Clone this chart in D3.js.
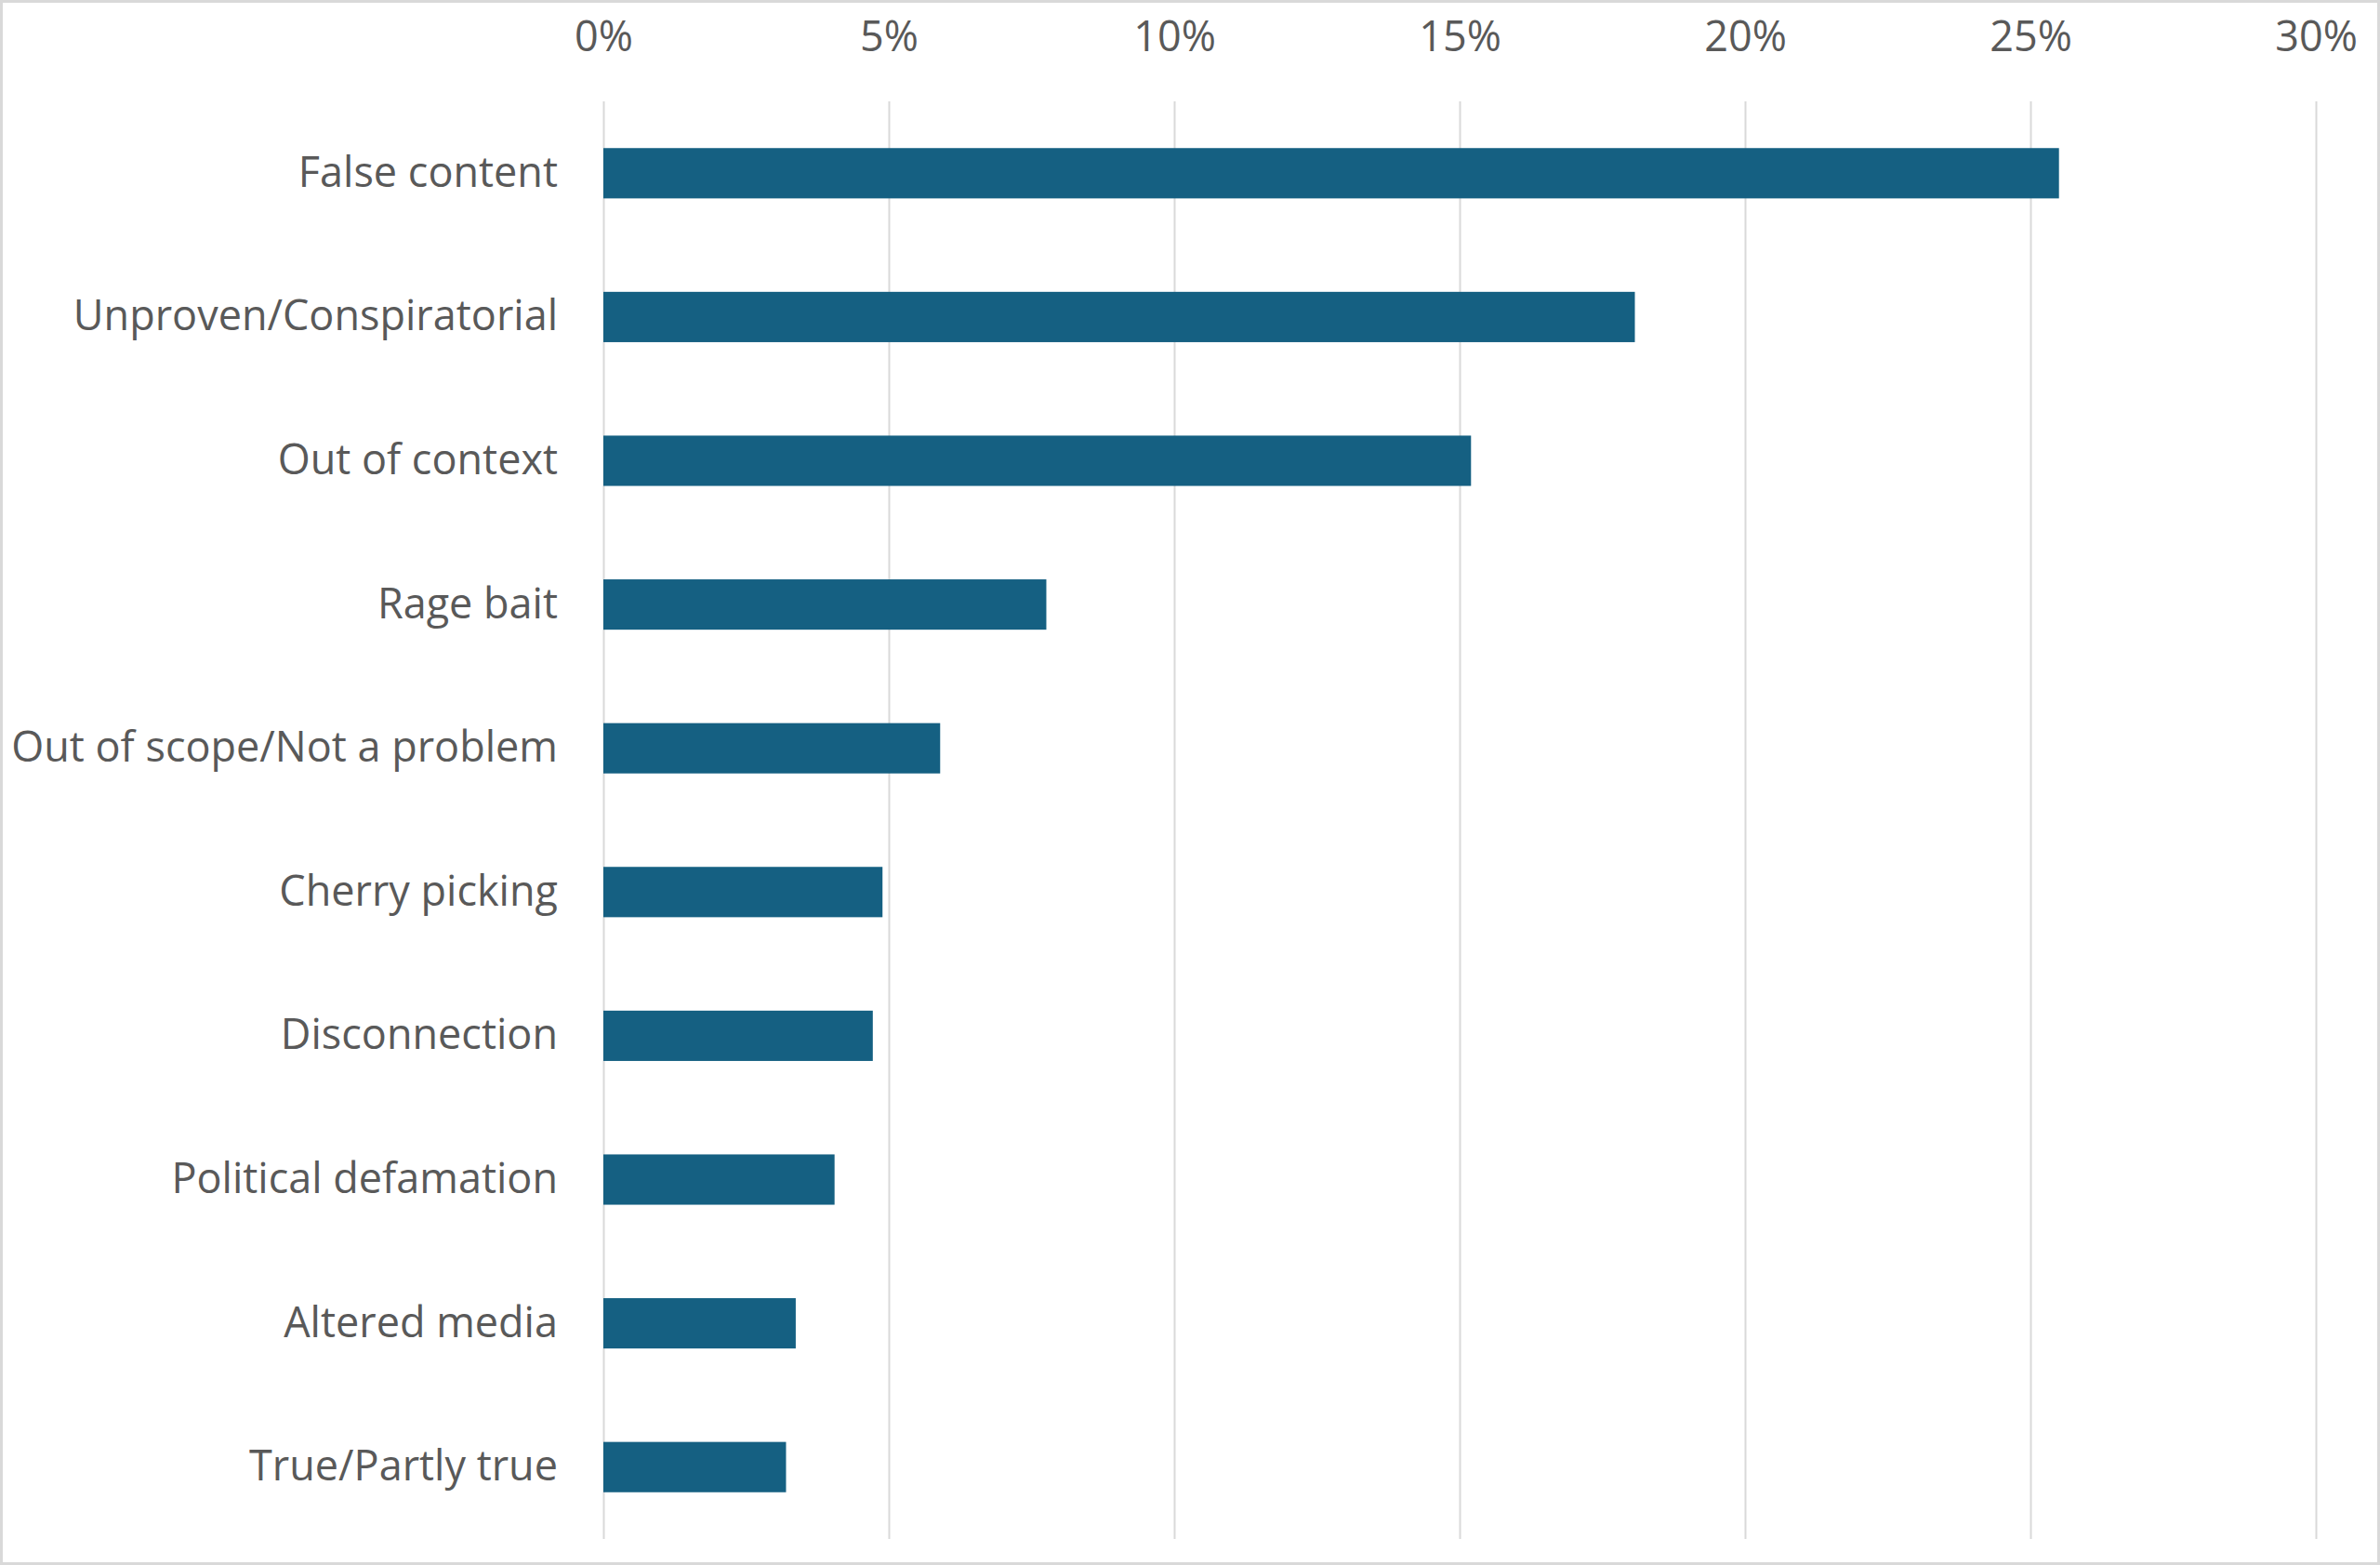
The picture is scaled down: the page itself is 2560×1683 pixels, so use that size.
<!DOCTYPE html>
<html>
<head>
<meta charset="utf-8">
<script src="https://cdn.jsdelivr.net/npm/d3@7"></script>
<style>
  body { margin: 0; background: #fff; }
  .axis text { font-family: "Open Sans", sans-serif; fill: #595959; }
</style>
</head>
<body>
<div id="chart"></div>
<script>
//-----------------------------DATA------------------------------//
const categories = ["False content", "Unproven/Conspiratorial", "Out of context", "Rage bait",
    "Out of scope/Not a problem", "Cherry picking", "Disconnection", "Political defamation",
    "Altered media", "True/Partly true"];
const shares = [25.5, 18.07, 15.2, 7.76, 5.9, 4.89, 4.72, 4.05, 3.37, 3.2];
const ticks = [0, 5, 10, 15, 20, 25, 30];

//------------------------1. PREPARATION-------------------------//
const width = 2560;
const height = 1683;
const plotLeft = 649;
const plotRight = 2491;
const plotTop = 109;
const plotBottom = 1655;

const svg = d3.select("#chart").append("svg")
    .attr("width", width)
    .attr("height", height);

// chart area border
svg.append("rect")
    .attr("x", 1.5).attr("y", 1.5)
    .attr("width", width - 3).attr("height", height - 3)
    .attr("fill", "#fff")
    .attr("stroke", "#d9d9d9")
    .attr("stroke-width", 3);

//----------------------------SCALES-----------------------------//
const xScale = d3.scaleLinear().domain([0, 30]).range([plotLeft, plotRight]);
const yScale = d3.scaleBand().domain(categories).range([plotTop, plotBottom])
    .paddingInner(0.65).paddingOuter(0.325);

//-----------------------------AXES------------------------------//
const xaxis = d3.axisTop(xScale)
    .tickValues(ticks)
    .tickFormat(d => d + "%")
    .tickSizeInner(-(plotBottom - plotTop))
    .tickSizeOuter(0)
    .tickPadding(54);

const gx = svg.append("g")
    .attr("class", "axis")
    .attr("transform", "translate(0," + plotTop + ")")
    .call(xaxis);
gx.select(".domain").remove();
gx.selectAll("line").attr("stroke", "#d9d9d9").attr("stroke-width", 2);
gx.selectAll("text").style("font-size", "45px");

const yaxis = d3.axisLeft(yScale).tickSize(0).tickPadding(49);
const gy = svg.append("g")
    .attr("class", "axis")
    .attr("transform", "translate(" + plotLeft + ",0)")
    .call(yaxis);
gy.select(".domain").remove();
gy.selectAll("text").style("font-size", "45px");

//-----------------------------BARS------------------------------//
svg.append("g")
    .selectAll("rect")
    .data(categories)
    .join("rect")
    .attr("x", xScale(0))
    .attr("y", d => yScale(d))
    .attr("width", (d, i) => xScale(shares[i]) - xScale(0))
    .attr("height", yScale.bandwidth())
    .attr("fill", "#156082");
</script>
</body>
</html>
